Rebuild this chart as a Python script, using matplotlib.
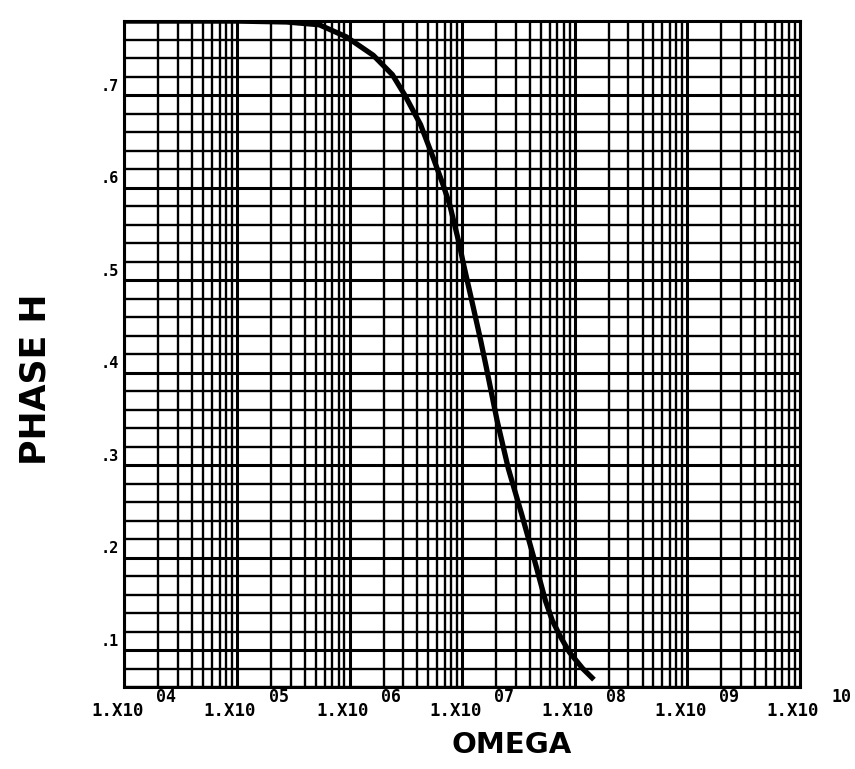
import numpy as np
import matplotlib
matplotlib.use('Agg')
import matplotlib.pyplot as plt
from matplotlib.ticker import LogLocator, MultipleLocator, NullFormatter

# curve: log10(omega) and phase
log_omega = [4.0, 5.0, 5.44, 5.73, 5.97, 6.21, 6.38, 6.49, 6.63, 6.74, 6.83,
             6.89, 6.93, 6.97, 7.01, 7.09, 7.16, 7.21, 7.31, 7.41, 7.53, 7.64,
             7.74, 7.80, 7.87, 7.95, 8.07, 8.17]
phase = [0.78, 0.78, 0.779, 0.776, 0.763, 0.743, 0.722, 0.700, 0.668, 0.633,
         0.603, 0.581, 0.561, 0.541, 0.518, 0.475, 0.437, 0.408, 0.348, 0.296,
         0.246, 0.198, 0.153, 0.132, 0.115, 0.098, 0.080, 0.068]

decades = [4, 5, 6, 7, 8, 9, 10]
exp_labels = ['04', '05', '06', '07', '08', '09', '10']
y_ticks = [0.1, 0.2, 0.3, 0.4, 0.5, 0.6, 0.7]
y_labels = ['.1', '.2', '.3', '.4', '.5', '.6', '.7']

omega = 10.0 ** np.array(log_omega)

fig = plt.figure(figsize=(8.55, 7.69), dpi=100)
ax = fig.add_axes([0.1456, 0.1066, 0.790, 0.866])

ax.plot(omega, phase, color='black', lw=3.8, solid_capstyle='butt', zorder=3)

ax.set_xscale('log')
ax.set_xlim(1e4, 1e10)
ax.set_ylim(0.06, 0.78)

# graph-paper grid
ax.xaxis.set_major_locator(LogLocator(base=10, numticks=20))
ax.xaxis.set_minor_locator(LogLocator(base=10, subs=np.arange(2, 10), numticks=100))
ax.yaxis.set_major_locator(MultipleLocator(0.1))
ax.yaxis.set_minor_locator(MultipleLocator(0.02))
ax.grid(which='major', color='black', lw=2.2)
ax.grid(which='minor', color='black', lw=1.7)
ax.tick_params(which='both', length=0, labelbottom=False, labelleft=False)
ax.xaxis.set_minor_formatter(NullFormatter())
for s in ax.spines.values():
    s.set_linewidth(2.2)

font = dict(family='DejaVu Sans Mono', weight='bold', color='black')

for v, t in zip(y_ticks, y_labels):
    ax.annotate(t, xy=(0, v), xycoords=('axes fraction', 'data'),
                xytext=(-4, 1), textcoords='offset points',
                ha='right', va='bottom', fontsize=11, **font)

for d, e in zip(decades, exp_labels):
    ax.annotate('1.X10', xy=(10.0 ** d, 0), xycoords=('data', 'axes fraction'),
                xytext=(-5, -17), textcoords='offset points',
                ha='center', va='center', fontsize=12.5, **font)
    ax.annotate(e, xy=(10.0 ** d, 0), xycoords=('data', 'axes fraction'),
                xytext=(30, -7), textcoords='offset points',
                ha='center', va='center', fontsize=12, **font)

fig.text(512 / 855, 1 - 745 / 769, 'OMEGA', ha='center', va='center',
         fontsize=21, family='DejaVu Sans', weight='bold')
fig.text(36 / 855, 1 - 379 / 769, 'PHASE H', ha='center', va='center',
         rotation=90, fontsize=25, family='DejaVu Sans', weight='bold')

fig.savefig('out.png', dpi=100)
